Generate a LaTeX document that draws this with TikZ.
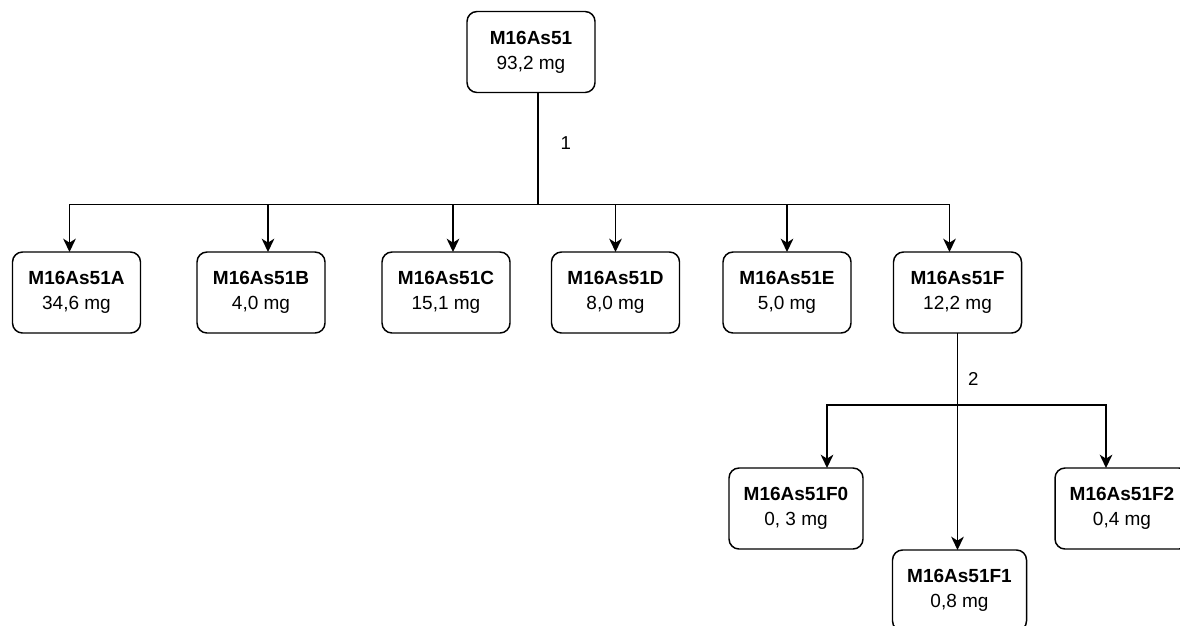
\documentclass[tikz,border=0pt]{standalone}
\usepackage{fontspec}
\setmainfont{Liberation Sans}
\usetikzlibrary{arrows.meta}

\begin{document}
\begin{tikzpicture}[x=0.75pt,y=-0.75pt,inner sep=0pt,outer sep=0pt,line width=1.2pt,
>={Stealth[length=10pt,width=9.5pt,inset=3pt]},
sample/.style={draw,rectangle,rounded corners=7.5pt,align=center,minimum width=96pt,minimum height=60.75pt,line width=1.1pt,font=\fontsize{14.25}{18.75}\selectfont},
fraction/.style={sample,minimum width=100.5pt},
steplabel/.style={font=\fontsize{14}{16}\selectfont}]

\useasboundingbox (0,0) rectangle (1180,625);
\clip (0,0) rectangle (1180,625);

\draw (531,52) node[sample] (top) {\textbf{M16As51}\\93,2 mg};
\draw (76.5,292.5) node[sample] (A) {\textbf{M16As51A}\\34,6 mg};
\draw (261,292.5) node[sample] (B) {\textbf{M16As51B}\\4,0 mg};
\draw (446,292.5) node[sample] (C) {\textbf{M16As51C}\\15,1 mg};
\draw (615.5,292.5) node[sample] (D) {\textbf{M16As51D}\\8,0 mg};
\draw (787,292.5) node[sample] (E) {\textbf{M16As51E}\\5,0 mg};
\draw (957.5,292.5) node[sample] (F) {\textbf{M16As51F}\\12,2 mg};
\draw (796,508.5) node[fraction] (F0) {\textbf{M16As51F0}\\0, 3 mg};
\draw (959.5,590.5) node[fraction] (F1) {\textbf{M16As51F1}\\0,8 mg};
\draw (1122,508.5) node[fraction] (F2) {\textbf{M16As51F2}\\0,4 mg};

% first split
\draw[->] ([xshift=5.25pt]top.south) -- ++(0,112) node[steplabel,pos=0.45,right=17pt] {1} -| ([xshift=-5.25pt]A.north);
\draw[->] ([xshift=5.25pt]top.south) -- ++(0,112) -| ([xshift=5.25pt]B.north);
\draw[->] ([xshift=5.25pt]top.south) -- ++(0,112) -| ([xshift=5.25pt]C.north);
\draw[->] ([xshift=5.25pt]top.south) -- ++(0,112) -| (D.north);
\draw[->] ([xshift=5.25pt]top.south) -- ++(0,112) -| (E.north);
\draw[->] ([xshift=5.25pt]top.south) -- ++(0,112) -| ([xshift=-6pt]F.north);

% second split
\draw[->] (F.south) -- ++(0,72) node[steplabel,pos=0.64,right=8pt] {2} -| ([xshift=23.25pt]F0.north);
\draw[->] (F.south) -- ++(0,72) -| ([xshift=-12pt]F2.north);
\draw[->] (F.south) -- (F.south |- F1.north);
\end{tikzpicture}
\end{document}
